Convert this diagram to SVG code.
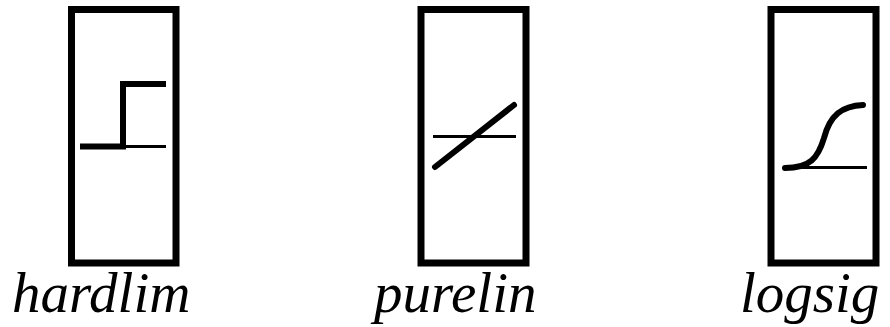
<svg xmlns="http://www.w3.org/2000/svg" width="890" height="327" viewBox="0 0 890 327">
<style>
.box{fill:#fff;stroke:#000;stroke-width:7}
.thick{fill:none;stroke:#000;stroke-width:6}
.thin{fill:none;stroke:#000;stroke-width:3}
.lbl{font-family:"Liberation Serif","Times New Roman",serif;font-style:italic;font-size:57px;fill:#000}
</style>
<rect width="890" height="327" fill="#fff"/>
<g id="hardlim">
<rect class="box" x="71.5" y="9.5" width="104.5" height="253.5"/>
<line class="thin" x1="125" y1="146.5" x2="166" y2="146.5"/>
<polyline class="thick" points="80,146.5 123,146.5 123,84 166,84" stroke-linejoin="miter"/>
<text class="lbl" x="12" y="312">hardlim</text>
</g>
<g id="purelin">
<rect class="box" x="421" y="9.5" width="105" height="253.5"/>
<line class="thin" x1="433" y1="136.5" x2="516" y2="136.5"/>
<line class="thick" x1="435" y1="167" x2="514" y2="105" stroke-linecap="round"/>
<text class="lbl" x="374" y="312">purelin</text>
</g>
<g id="logsig">
<rect class="box" x="771" y="9.5" width="105" height="253.5"/>
<line class="thin" x1="786" y1="167.5" x2="867" y2="167.5"/>
<path class="thick" d="M785,168 C810,168 818,158 824,138 C830,115 842,106 863,105" stroke-linecap="round"/>
<text class="lbl" x="740" y="312">logsig</text>
</g>
</svg>
